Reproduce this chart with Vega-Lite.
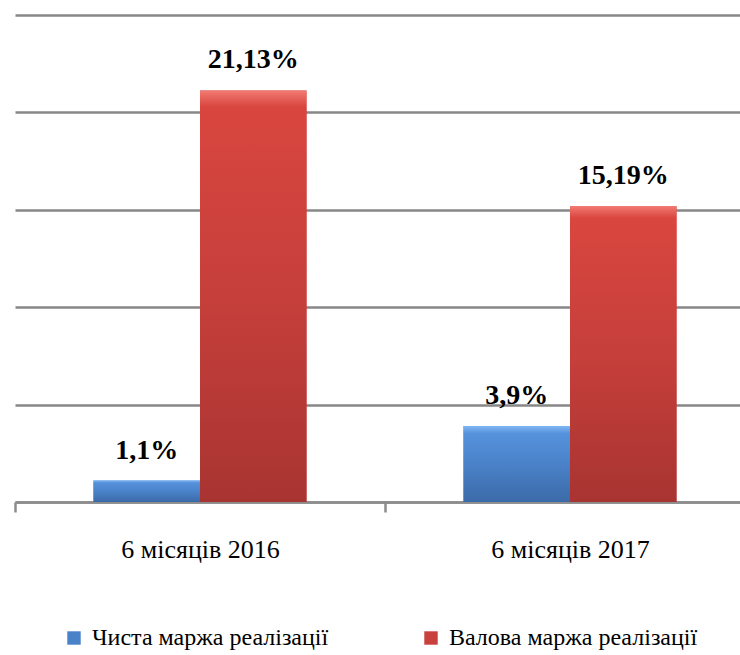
{
  "$schema": "https://vega.github.io/schema/vega-lite/v6.json",
  "width": 725,
  "height": 487,
  "autosize": {"type": "none"},
  "padding": {"left": 15, "top": 15, "right": 0, "bottom": 153},
  "background": "white",
  "config": {"view": {"stroke": null}, "font": "Times New Roman, Liberation Serif, serif"},
  "data": {
    "values": [
      {"period": "6 місяців 2016", "series": "Чиста маржа реалізації", "value": 1.1, "label": "1,1%"},
      {"period": "6 місяців 2016", "series": "Валова маржа реалізації", "value": 21.13, "label": "21,13%"},
      {"period": "6 місяців 2017", "series": "Чиста маржа реалізації", "value": 3.9, "label": "3,9%"},
      {"period": "6 місяців 2017", "series": "Валова маржа реалізації", "value": 15.19, "label": "15,19%"}
    ]
  },
  "encoding": {
    "x": {
      "field": "period",
      "type": "nominal",
      "scale": {"range": [0, 740], "paddingInner": 0, "paddingOuter": 0},
      "axis": {
        "title": null,
        "tickBand": "extent",
        "tickSize": 10,
        "tickColor": "#8c8c8c",
        "tickWidth": 2.5,
        "domainColor": "#8c8c8c",
        "domainWidth": 2.5,
        "labelFont": "Times New Roman, Liberation Serif, serif",
        "labelFontSize": 26,
        "labelColor": "black",
        "labelAngle": 0,
        "labelPadding": 45,
        "labelBaseline": "alphabetic",
        "grid": false
      }
    },
    "xOffset": {
      "field": "series",
      "type": "nominal",
      "sort": ["Чиста маржа реалізації", "Валова маржа реалізації"],
      "scale": {"paddingInner": 0, "paddingOuter": 0.737}
    },
    "y": {
      "field": "value",
      "type": "quantitative",
      "scale": {"domain": [0, 25]},
      "axis": {
        "values": [0, 5, 10, 15, 20, 25],
        "labels": false,
        "ticks": false,
        "domain": false,
        "title": null,
        "grid": true,
        "gridColor": "#878787",
        "gridWidth": 2.5
      }
    }
  },
  "layer": [
    {
      "mark": {"type": "bar"},
      "encoding": {
        "color": {
          "field": "series",
          "type": "nominal",
          "sort": ["Чиста маржа реалізації", "Валова маржа реалізації"],
          "scale": {"range": ["#4a82c9", "#c8413d"]},
          "legend": {
            "orient": "none",
            "legendX": 47,
            "legendY": 611,
            "direction": "horizontal",
            "title": null,
            "symbolType": "square",
            "symbolSize": 180,
            "symbolStrokeWidth": 0,
            "labelFont": "Times New Roman, Liberation Serif, serif",
            "labelFontSize": 24,
            "labelColor": "black",
            "labelLimit": 400,
            "labelOffset": 6,
            "columnPadding": 90
          }
        }
      }
    },
    {
      "mark": {"type": "bar"},
      "encoding": {
        "fill": {
          "condition": {
            "test": "datum.series === 'Чиста маржа реалізації'",
            "value": {
              "gradient": "linear",
              "x1": 0, "y1": 0, "x2": 0, "y2": 1,
              "stops": [
                {"offset": 0, "color": "#7fb6f4"},
                {"offset": 0.1, "color": "#5592dc"},
                {"offset": 0.5, "color": "#4a82c9"},
                {"offset": 1, "color": "#3b6aa8"}
              ]
            }
          },
          "value": {
            "gradient": "linear",
            "x1": 0, "y1": 0, "x2": 0, "y2": 1,
            "stops": [
              {"offset": 0, "color": "#f27a73"},
              {"offset": 0.04, "color": "#d9463f"},
              {"offset": 0.5, "color": "#c63f3b"},
              {"offset": 1, "color": "#a83431"}
            ]
          }
        }
      }
    },
    {
      "mark": {
        "type": "text",
        "font": "Times New Roman, Liberation Serif, serif",
        "fontWeight": "bold",
        "fontSize": 28,
        "dy": -22,
        "baseline": "alphabetic",
        "color": "black"
      },
      "encoding": {"text": {"field": "label"}}
    }
  ]
}
